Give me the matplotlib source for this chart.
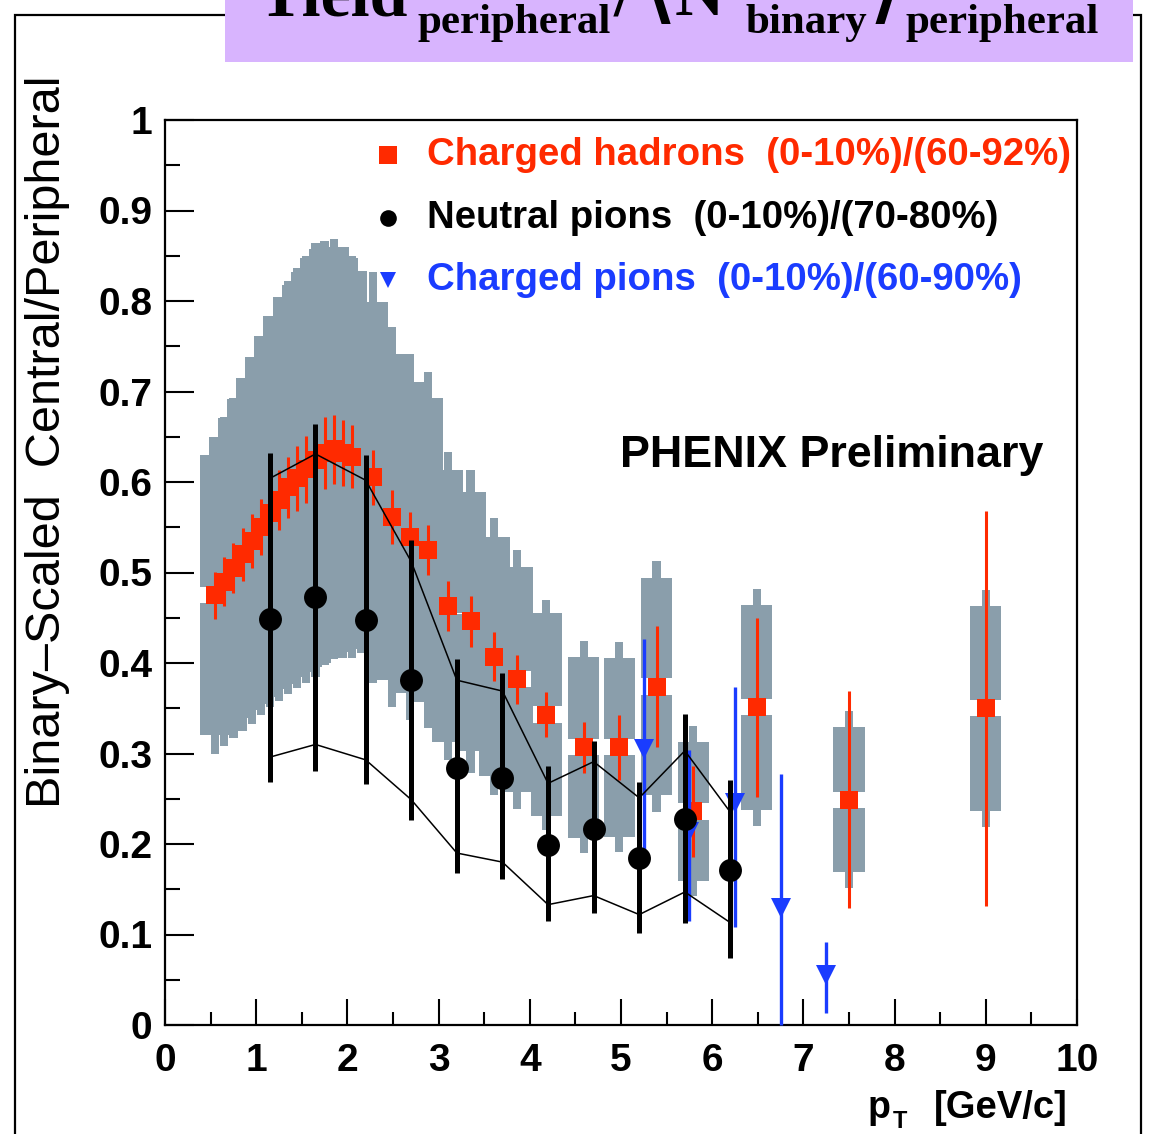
import matplotlib
matplotlib.use("Agg")
import matplotlib.pyplot as plt
from matplotlib.patches import Rectangle

plt.rcParams['font.family'] = ['Liberation Sans', 'DejaVu Sans']

# charged hadrons (0-10%)/(60-92%): ratio, stat. error, sys. box, sys. bar
had_pt = [0.55, 0.65, 0.75, 0.85, 0.95, 1.05, 1.15, 1.25, 1.35, 1.45, 1.55, 1.65,
          1.75, 1.85, 1.95, 2.05, 2.28, 2.49, 2.69, 2.88, 3.10, 3.35, 3.61, 3.86,
          4.18, 4.59, 4.98, 5.39, 5.79, 6.49, 7.50, 9.00]
had_r = [0.475, 0.490, 0.505, 0.520, 0.535, 0.550, 0.566, 0.580, 0.594, 0.604, 0.614, 0.624,
         0.632, 0.636, 0.632, 0.628, 0.605, 0.561, 0.539, 0.525, 0.463, 0.446, 0.407, 0.382,
         0.343, 0.307, 0.307, 0.374, 0.236, 0.351, 0.249, 0.350]
had_stat = [0.026, 0.027, 0.028, 0.029, 0.030, 0.031, 0.032, 0.033, 0.034, 0.036, 0.037, 0.038,
            0.040, 0.038, 0.036, 0.035, 0.030, 0.030, 0.028, 0.028, 0.028, 0.028, 0.027, 0.027,
            0.025, 0.028, 0.036, 0.067, 0.050, 0.099, 0.120, 0.218]
had_sys = [0.155, 0.160, 0.166, 0.172, 0.180, 0.188, 0.195, 0.203, 0.210, 0.214, 0.218, 0.224,
           0.226, 0.224, 0.216, 0.205, 0.194, 0.180, 0.172, 0.168, 0.150, 0.143, 0.132, 0.124,
           0.112, 0.100, 0.099, 0.120, 0.077, 0.113, 0.080, 0.113]
had_sys2 = [0.175, 0.182, 0.188, 0.195, 0.202, 0.208, 0.215, 0.222, 0.228, 0.232, 0.236, 0.240,
            0.234, 0.232, 0.226, 0.222, 0.227, 0.210, 0.202, 0.197, 0.170, 0.167, 0.153, 0.143,
            0.127, 0.117, 0.116, 0.139, 0.094, 0.131, 0.098, 0.131]

# neutral pions (0-10%)/(70-80%)
pi0_pt = [1.15, 1.65, 2.2, 2.7, 3.2, 3.7, 4.2, 4.7, 5.2, 5.7, 6.2]
pi0_r = [0.449, 0.473, 0.447, 0.381, 0.284, 0.273, 0.199, 0.217, 0.184, 0.228, 0.171]
pi0_lo = [0.269, 0.281, 0.266, 0.227, 0.168, 0.161, 0.115, 0.124, 0.102, 0.113, 0.074]
pi0_hi = [0.632, 0.664, 0.630, 0.536, 0.404, 0.389, 0.286, 0.314, 0.268, 0.344, 0.271]
pi0_sys_hi = [0.604, 0.631, 0.602, 0.512, 0.381, 0.369, 0.267, 0.291, 0.251, 0.303, 0.235]
pi0_sys_lo = [0.296, 0.310, 0.293, 0.249, 0.190, 0.180, 0.133, 0.143, 0.122, 0.147, 0.113]

# charged pions (0-10%)/(60-90%)
pip_pt = [5.25, 5.75, 6.25, 6.75, 7.25]
pip_r = [0.305, 0.213, 0.245, 0.129, 0.055]
pip_lo = [0.177, 0.115, 0.108, 0.0, 0.013]
pip_hi = [0.427, 0.304, 0.374, 0.277, 0.092]

RED = '#ff2a00'
BLUE = '#1a3cff'
GREY = '#8a9eab'

W, H = 1155, 1134


def fx(px):
    return px / W


def fy(py):
    return 1 - py / H


fig = plt.figure(figsize=(W / 100, H / 100), dpi=100)
ax = fig.add_axes([fx(165), fy(1025), fx(1077) - fx(165), fy(120) - fy(1025)])

# systematic boxes of the charged hadrons (wide box split at the point, narrow bar)
bw, sw, gap = 0.17, 0.045, 0.009
for x, y, s, s2 in zip(had_pt, had_r, had_sys, had_sys2):
    ax.add_patch(Rectangle((x - sw, y - s2), 2 * sw, 2 * s2, color=GREY, lw=0,
                           antialiased=False, zorder=1))
    ax.add_patch(Rectangle((x - bw, y + gap), 2 * bw, s - gap, color=GREY, lw=0,
                           antialiased=False, zorder=1))
    ax.add_patch(Rectangle((x - bw, y - s), 2 * bw, s - gap, color=GREY, lw=0,
                           antialiased=False, zorder=1))

ax.errorbar(had_pt, had_r, yerr=had_stat, fmt='s', color=RED, ms=13.5, mew=0,
            elinewidth=2.2, capsize=3.6, capthick=2.2, zorder=3)

ax.errorbar(pip_pt, pip_r,
            yerr=[[r - lo for r, lo in zip(pip_r, pip_lo)], [hi - r for r, hi in zip(pip_r, pip_hi)]],
            fmt='v', color=BLUE, ms=14, mew=0, elinewidth=2.4, capsize=3.6, capthick=2.4,
            zorder=4, clip_on=False)

ax.errorbar(pi0_pt, pi0_r,
            yerr=[[r - lo for r, lo in zip(pi0_r, pi0_lo)], [hi - r for r, hi in zip(pi0_r, pi0_hi)]],
            fmt='o', color='black', ms=16.5, mew=0, elinewidth=3.6, capsize=3.6, capthick=3,
            zorder=5)
ax.plot(pi0_pt, pi0_sys_hi, color='black', lw=1.1, zorder=6)
ax.plot(pi0_pt, pi0_sys_lo, color='black', lw=1.1, zorder=6)

ax.set_xlim(0, 10)
ax.set_ylim(0, 1)
ax.set_xticks(range(0, 11))
ax.set_xticks([i + 0.5 for i in range(10)], minor=True)
ax.set_yticks([i / 10 for i in range(11)])
ax.set_yticks([i / 20 for i in range(1, 20, 2)], minor=True)
ax.set_xticklabels([str(i) for i in range(11)])
ax.set_yticklabels(['0'] + ['0.%d' % i for i in range(1, 10)] + ['1'])
ax.tick_params(axis='both', which='both', direction='in', top=False, right=False, width=1.5)
ax.tick_params(axis='y', which='major', length=21, pad=9)
ax.tick_params(axis='y', which='minor', length=11)
ax.tick_params(axis='x', which='major', length=19, pad=13)
ax.tick_params(axis='x', which='minor', length=9.5)
for lab in ax.get_xticklabels() + ax.get_yticklabels():
    lab.set_fontsize(28)
    lab.set_fontweight('bold')
for sp in ax.spines.values():
    sp.set_linewidth(1.6)

# legend
leg = [('s', RED, 13, 'Charged hadrons  (0-10%)/(60-92%)', 0.961),
       ('o', 'black', 12, 'Neutral pions  (0-10%)/(70-80%)', 0.892),
       ('v', BLUE, 12, 'Charged pions  (0-10%)/(60-90%)', 0.823)]
for mk, col, ms, label, ly in leg:
    ax.plot([2.445], [ly], marker=mk, color=col, ms=ms, mew=0, zorder=7, clip_on=False)
    ax.text(2.87, ly, label, color=col, fontsize=27.6, fontweight='bold', va='center', ha='left', zorder=7)

ax.text(4.99, 0.629, 'PHENIX Preliminary', fontsize=32.3, fontweight='bold', va='center', ha='left')

fig.text(fx(48), fy(442), 'Binary\u2013Scaled  Central/Peripheral', rotation=90,
         fontsize=35, ha='center', va='center')

fig.text(fx(868), fy(1118), 'p', fontsize=27, fontweight='bold', ha='left', va='baseline')
fig.text(fx(893), fy(1128), 'T', fontsize=17, fontweight='bold', ha='left', va='baseline')
fig.text(fx(1068), fy(1118), '[GeV/c]', fontsize=27.5, fontweight='bold', ha='right', va='baseline')

# page frame and the header box
fig.add_artist(Rectangle((fx(15), fy(1140)), fx(1141) - fx(15), fy(15) - fy(1140), fill=False,
                         edgecolor='black', lw=1.6, transform=fig.transFigure, zorder=1))
fig.add_artist(Rectangle((fx(225), fy(62)), fx(1133) - fx(225), fy(0) - fy(62), facecolor='#d8b4fe',
                         edgecolor='none', transform=fig.transFigure, zorder=2))
serif = ['Liberation Serif', 'DejaVu Serif']
hdr = [(256, 15, 'Yield', 49), (418, 33, 'peripheral', 31), (614, 15, '/', 49),
       (645, 15, '\u27e8N', 49), (745, 33, 'binary', 31), (870, 15, '\u27e9', 49),
       (905, 33, 'peripheral', 31)]
for px, py, s, fs in hdr:
    fig.text(fx(px), fy(py), s, family=serif, fontsize=fs, fontweight='bold',
             ha='left', va='baseline', zorder=3)

fig.savefig('out.png', dpi=100)
